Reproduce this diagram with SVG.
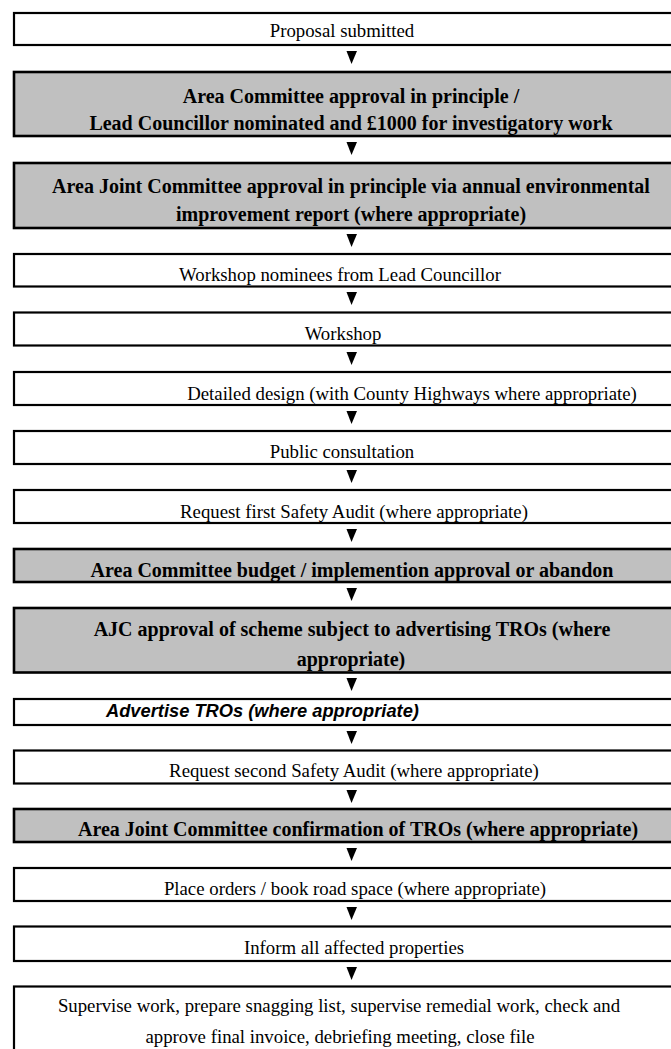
<svg xmlns="http://www.w3.org/2000/svg" xmlns:xlink="http://www.w3.org/1999/xlink" width="671" height="1049" viewBox="0 0 671 1049">
<style>
.box{fill:#fff;stroke:#000;stroke-width:2.2}
.grey{fill:#c0c0c0;stroke:#000;stroke-width:2.6}
.t{font-family:"Liberation Serif","Times New Roman",serif;font-size:18.8px;fill:#000;text-anchor:middle}
.b{font-weight:bold;font-size:20px}
.it{font-family:"Liberation Sans",Arial,sans-serif;font-weight:bold;font-style:italic;font-size:18.3px;fill:#000}
</style>
<defs>
<polygon id="arr" points="-5.5,0 5,0 -0.5,13" fill="#000"/>
</defs>
<rect width="671" height="1049" fill="#fff"/>
<g id="n1"><rect class="box" x="14" y="13" width="690" height="32"/><text class="t" x="342" y="37">Proposal submitted</text></g>
<g id="n2"><rect class="grey" x="14" y="72" width="690" height="64"/><text class="t b" x="351" y="103">Area Committee approval in principle /</text><text class="t b" x="351" y="130">Lead Councillor nominated and £1000 for investigatory work</text></g>
<g id="n3"><rect class="grey" x="14" y="163" width="690" height="65"/><text class="t b" x="351" y="193">Area Joint Committee approval in principle via annual environmental</text><text class="t b" x="351" y="221">improvement report (where appropriate)</text></g>
<g id="n4"><rect class="box" x="14" y="254" width="690" height="32.5"/><text class="t" x="340" y="281">Workshop nominees from Lead Councillor</text></g>
<g id="n5"><rect class="box" x="14" y="312.5" width="690" height="33"/><text class="t" x="343" y="340">Workshop</text></g>
<g id="n6"><rect class="box" x="14" y="372" width="690" height="33"/><text class="t" x="412" y="400">Detailed design (with County Highways where appropriate)</text></g>
<g id="n7"><rect class="box" x="14" y="431" width="690" height="33"/><text class="t" x="342" y="458">Public consultation</text></g>
<g id="n8"><rect class="box" x="14" y="490" width="690" height="33"/><text class="t" x="354" y="518">Request first Safety Audit (where appropriate)</text></g>
<g id="n9"><rect class="grey" x="14" y="549" width="690" height="33"/><text class="t b" x="352" y="577">Area Committee budget / implemention approval or abandon</text></g>
<g id="n10"><rect class="grey" x="14" y="608" width="690" height="64.5"/><text class="t b" x="352" y="636">AJC approval of scheme subject to advertising TROs (where</text><text class="t b" x="351" y="666">appropriate)</text></g>
<g id="n11"><rect class="box" x="14" y="699" width="690" height="26"/><text class="it" x="106" y="717">Advertise TROs (where appropriate)</text></g>
<g id="n12"><rect class="box" x="14" y="750.5" width="690" height="33"/><text class="t" x="354" y="777">Request second Safety Audit (where appropriate)</text></g>
<g id="n13"><rect class="grey" x="14" y="809" width="690" height="33"/><text class="t b" x="358" y="836">Area Joint Committee confirmation of TROs (where appropriate)</text></g>
<g id="n14"><rect class="box" x="14" y="868" width="690" height="33"/><text class="t" x="355" y="895">Place orders / book road space (where appropriate)</text></g>
<g id="n15"><rect class="box" x="14" y="926.5" width="690" height="34.5"/><text class="t" x="354" y="954">Inform all affected properties</text></g>
<g id="n16"><rect class="box" x="14" y="986.5" width="690" height="90"/><text class="t" x="339" y="1012">Supervise work, prepare snagging list, supervise remedial work, check and</text><text class="t" x="340" y="1043">approve final invoice, debriefing meeting, close file</text></g>
<g id="connectors">
<use xlink:href="#arr" x="352" y="51"/>
<use xlink:href="#arr" x="352" y="142"/>
<use xlink:href="#arr" x="352" y="234"/>
<use xlink:href="#arr" x="352" y="292"/>
<use xlink:href="#arr" x="352" y="352"/>
<use xlink:href="#arr" x="352" y="411"/>
<use xlink:href="#arr" x="352" y="470"/>
<use xlink:href="#arr" x="352" y="529"/>
<use xlink:href="#arr" x="352" y="588"/>
<use xlink:href="#arr" x="352" y="678"/>
<use xlink:href="#arr" x="352" y="731"/>
<use xlink:href="#arr" x="352" y="790"/>
<use xlink:href="#arr" x="352" y="848"/>
<use xlink:href="#arr" x="352" y="907"/>
<use xlink:href="#arr" x="352" y="967"/>
</g>
</svg>
